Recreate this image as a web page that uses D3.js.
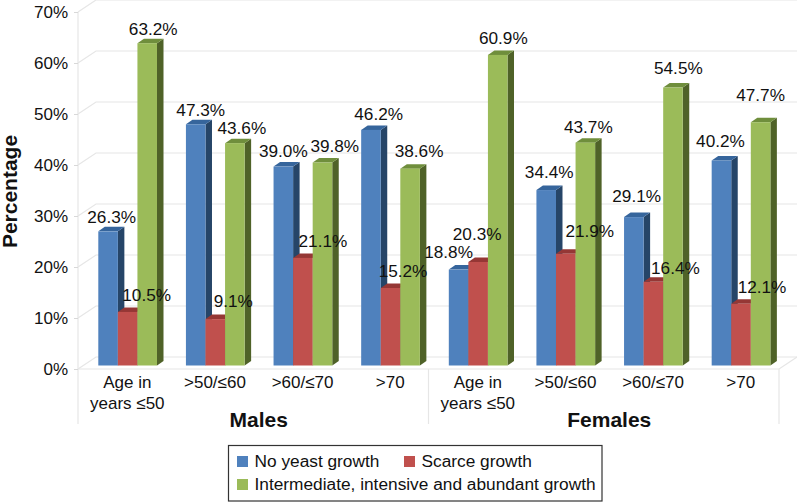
<!DOCTYPE html>
<html><head><meta charset="utf-8">
<script src="https://cdn.jsdelivr.net/npm/d3@7/dist/d3.min.js"></script>
<style>html,body{margin:0;background:#fff}svg{display:block}text{font-family:"Liberation Sans",Arial,sans-serif;fill:#111}</style>
</head><body><svg id="c" width="797" height="502"></svg>
<script>
const categories = ["Age in|years ≤50", ">50/≤60", ">60/≤70", ">70", "Age in|years ≤50 ", ">50/≤60 ", ">60/≤70 ", ">70 "];
const groups = ["Males", "Females"];
const seriesNames = ["No yeast growth", "Scarce growth", "Intermediate, intensive and abundant growth"];
const noYeast = [26.3, 47.3, 39.0, 46.2, 18.8, 34.4, 29.1, 40.2];
const scarce = [10.5, 9.1, 21.1, 15.2, 20.3, 21.9, 16.4, 12.1];
const intermediate = [63.2, 43.6, 39.8, 38.6, 60.9, 43.7, 54.5, 47.7];
const yTicks = [0, 10, 20, 30, 40, 50, 60, 70];
const faceColors = ["#4f81bd", "#c0504d", "#9bbb59"];
const topColors = ["#36659c", "#953735", "#6f8e3c"];
const sideColors = ["#264568", "#632523", "#4f6228"];
// label nudges [dx, dy] relative to the default placement
const labelNudge = [
  [[3.6,2],[5,2],[0,0],[7.7,0],[-10,-2],[3,-1.7],[2.8,-5.3],[-1,-3.8]],
  [[19,-1.2],[18,-1.7],[20,-1],[12.5,-1],[-1,-12],[24,-6.5],[22,2],[21,-0.5]],
  [[6,2],[7,1],[12.3,-1],[9,-1.5],[5.6,-0.6],[3,0],[5.4,-3.5],[0,-11.5]]
];
const values = [noYeast, scarce, intermediate];

const svg = d3.select("#c");
const left = 78, right = 779, floor = 369, top70 = 12;
const wallDx = 18, wallDy = -12;
const barDx = 6.5, barDy = -4.5, baseDy = -3.5;

const y = d3.scaleLinear().domain([0, 70]).range([floor, top70]);
const x = d3.scaleBand().domain(categories).range([left, right]);
const inner = d3.scaleBand().domain([0, 1, 2]).range([20.3, 79]);

const grid = svg.append("g").attr("fill", "none").attr("stroke", "#e6e6e6").attr("stroke-width", 1.2);
yTicks.forEach(t => {
  const p = y(t);
  grid.append("path").attr("d", `M${left},${p}L${left + wallDx},${p + wallDy}H${right + wallDx}`);
});
grid.append("path").attr("d", `M${right},${floor}L${right + wallDx},${floor + wallDy}`);
grid.append("path").attr("d", `M${left},${floor}H${right}`);
[left, (left + right) / 2, right].forEach(v =>
  grid.append("line").attr("x1", v).attr("x2", v).attr("y1", v === left ? top70 : floor).attr("y2", 424));

const axis = svg.append("g").attr("transform", `translate(${left},0)`)
  .call(d3.axisLeft(y).tickValues(yTicks).tickFormat(d => d + "%").tickSize(4).tickPadding(6));
axis.select(".domain").remove();
axis.selectAll("line").attr("stroke", "#d8d8d8");
axis.selectAll("text").style("font-size", "17px").attr("fill", "#111");

const barsG = svg.append("g");
categories.forEach((c, i) => {
  [0, 1, 2].forEach(s => {
    const v = values[s][i];
    const x0 = x(c) + inner(s), w = inner.bandwidth();
    const b = y(0) + baseDy, t = y(v) + baseDy;
    const g = barsG.append("g");
    g.append("path").attr("fill", sideColors[s])
      .attr("d", `M${x0 + w},${t}L${x0 + w + barDx},${t + barDy}V${b + barDy}L${x0 + w},${b}Z`);
    g.append("path").attr("fill", topColors[s])
      .attr("d", `M${x0},${t}L${x0 + barDx},${t + barDy}H${x0 + w + barDx}L${x0 + w},${t}Z`);
    g.append("rect").attr("fill", faceColors[s]).attr("x", x0).attr("y", t).attr("width", w).attr("height", b - t);
  });
});
const labelsG = svg.append("g");
categories.forEach((c, i) => {
  [0, 1, 2].forEach(s => {
    const v = values[s][i];
    const cx = x(c) + inner(s) + inner.bandwidth() / 2;
    labelsG.append("text").attr("text-anchor", "middle").style("font-size", "17.2px")
      .attr("x", cx + labelNudge[s][i][0]).attr("y", y(v) + baseDy - 10 + labelNudge[s][i][1])
      .text(v.toFixed(1) + "%");
  });
});

const catG = svg.append("g");
categories.forEach(c => {
  const t = catG.append("text").attr("text-anchor", "middle").style("font-size", "17px");
  c.trim().split("|").forEach((line, k) => {
    t.append("tspan").attr("x", x(c) + x.bandwidth() / 2 + 5.5).attr("y", 388 + k * 20.5).text(line);
  });
});
groups.forEach((g, i) => {
  svg.append("text").attr("text-anchor", "middle").style("font-size", "21px").style("font-weight", "bold")
    .attr("x", left + (right - left) * (i + 0.5) / 2 + 5.5).attr("y", 427).text(g);
});
svg.append("text").attr("text-anchor", "middle").style("font-size", "21px").style("font-weight", "bold")
  .attr("transform", "translate(16.5,191.5) rotate(-90)").text("Percentage");

const leg = svg.append("g");
leg.append("rect").attr("x", 228.5).attr("y", 445.5).attr("width", 373.5).attr("height", 55.5)
  .attr("fill", "#fff").attr("stroke", "#333").attr("stroke-width", 1.2);
const legPos = [[237, 461.5], [404, 461.5], [237, 484.5]];
seriesNames.forEach((n, i) => {
  leg.append("rect").attr("x", legPos[i][0]).attr("y", legPos[i][1] - 5.5).attr("width", 11).attr("height", 11).attr("fill", faceColors[i]);
  leg.append("text").attr("x", legPos[i][0] + 17.5).attr("y", legPos[i][1] + 5.5).style("font-size", "17.3px").text(n);
});
</script></body></html>
